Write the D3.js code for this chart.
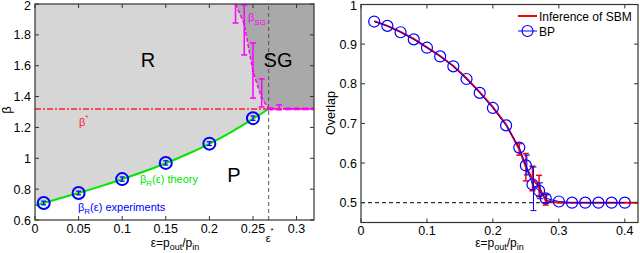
<!DOCTYPE html>
<html><head><meta charset="utf-8">
<script src="https://cdn.jsdelivr.net/npm/d3@7"></script>
<style>
body{margin:0;background:#fff;}
svg text{font-family:"Liberation Sans",Arial,sans-serif;}
</style></head>
<body><svg id="c" width="640" height="253"></svg>
<script>
// ---------- Left panel data ----------
const leftXTicks = [0, 0.05, 0.1, 0.15, 0.2, 0.25, 0.3];
const leftYTicks = [0.6, 0.8, 1, 1.2, 1.4, 1.6, 1.8, 2];
const betaStar = 1.32;
const epsStar = 0.268;
const theoryEps  = [0, 0.025, 0.05, 0.075, 0.1, 0.125, 0.15, 0.175, 0.2, 0.225, 0.25, 0.268];
const theoryBeta = [0.693, 0.735, 0.775, 0.818, 0.864, 0.914, 0.968, 1.028, 1.094, 1.17, 1.255, 1.32];
const expEps  = [0.01, 0.05, 0.1, 0.15, 0.2, 0.25];
const expBeta = [0.71, 0.775, 0.865, 0.97, 1.095, 1.26];
const expErr  = [0.012, 0.012, 0.014, 0.014, 0.012, 0.014];
const sgEps  = [0.23, 0.24, 0.25, 0.26, 0.268, 0.27, 0.28, 0.29, 0.30, 0.31, 0.32];
const sgBeta = [2.0, 1.87, 1.562, 1.39, 1.32, 1.32, 1.32, 1.32, 1.32, 1.32, 1.32];
const sgLo   = [1.877, 1.67, 1.39, 1.333, 1.32, 1.315, 1.314, 1.316, 1.316, 1.316, 1.316];
const sgHi   = [2.12, 1.994, 1.748, 1.515, 1.32, 1.325, 1.346, 1.324, 1.324, 1.324, 1.324];

// ---------- Right panel data ----------
const rightXTicks = [0, 0.1, 0.2, 0.3, 0.4];
const rightYTicks = [0.5, 0.6, 0.7, 0.8, 0.9, 1];
const bpEps = [0.02, 0.04, 0.06, 0.08, 0.10, 0.12, 0.14, 0.16, 0.18, 0.20, 0.22, 0.24, 0.25, 0.26, 0.27, 0.28, 0.30, 0.32, 0.34, 0.36, 0.38, 0.40];
const bpOv  = [0.957, 0.946, 0.930, 0.912, 0.891, 0.869, 0.844, 0.812, 0.777, 0.739, 0.695, 0.639, 0.594, 0.546, 0.530, 0.511, 0.503, 0.5, 0.5, 0.5, 0.5, 0.5];
const bpErrEps = [0.25, 0.26, 0.27, 0.28];
const bpErrLo  = [0.57, 0.48, 0.51, 0.50];
const bpErrHi  = [0.62, 0.59, 0.55, 0.52];
const sbmEps = [0.02, 0.04, 0.06, 0.08, 0.10, 0.12, 0.14, 0.16, 0.18, 0.20, 0.22, 0.24, 0.25, 0.26, 0.27, 0.28, 0.30, 0.42];
const sbmOv  = [0.958, 0.946, 0.931, 0.913, 0.892, 0.870, 0.845, 0.814, 0.779, 0.741, 0.697, 0.635, 0.59, 0.56, 0.54, 0.505, 0.5, 0.5];
const sbmErrEps = [0.24, 0.25, 0.26, 0.27, 0.28];
const sbmErrLo  = [0.62, 0.555, 0.53, 0.515, 0.494];
const sbmErrHi  = [0.649, 0.624, 0.592, 0.569, 0.521];
const overlapBaseline = 0.5;

const svg = d3.select("#c");
const frameColor = "#333";

function frame(g, x, y, xt, yt, xfmt, yfmt) {
  const [x0, x1] = x.range(), [y0, y1] = y.range();
  const tl = 4;
  xt.forEach(v => {
    g.append("line").attr("x1", x(v)).attr("x2", x(v)).attr("y1", y0).attr("y2", y0 - tl).attr("stroke", frameColor);
    g.append("line").attr("x1", x(v)).attr("x2", x(v)).attr("y1", y1).attr("y2", y1 + tl).attr("stroke", frameColor);
    g.append("text").attr("x", x(v)).attr("y", y0 + 12.5).attr("text-anchor", "middle").attr("font-size", 12.5).text(xfmt(v));
  });
  yt.forEach(v => {
    g.append("line").attr("x1", x0).attr("x2", x0 + tl).attr("y1", y(v)).attr("y2", y(v)).attr("stroke", frameColor);
    g.append("line").attr("x1", x1).attr("x2", x1 - tl).attr("y1", y(v)).attr("y2", y(v)).attr("stroke", frameColor);
    g.append("text").attr("x", x0 - 4).attr("y", Math.max(y(v) + 4.5, 10)).attr("text-anchor", "end").attr("font-size", 12.5).text(yfmt(v));
  });
  g.append("rect").attr("x", x0).attr("y", y1).attr("width", x1 - x0).attr("height", y0 - y1)
    .attr("fill", "none").attr("stroke", frameColor).attr("stroke-width", 1.2);
}
const fmt = v => String(v);

// ================= LEFT PANEL =================
const xL = d3.scaleLinear().domain([0, 0.32]).range([35, 314]);
const yL = d3.scaleLinear().domain([0.6, 2]).range([220, 4]);
const gL = svg.append("g");
gL.append("defs").append("clipPath").attr("id", "clipL").append("rect")
  .attr("x", 35).attr("y", 4).attr("width", 279).attr("height", 216);
const pL = gL.append("g").attr("clip-path", "url(#clipL)");

pL.append("rect").attr("x", 35).attr("y", 4).attr("width", 279).attr("height", 216).attr("fill", "#d6d6d6");
const sgPoly = sgEps.map((e, i) => [xL(e), yL(sgBeta[i])]);
sgPoly.push([xL(0.32), yL(2)]);
pL.append("path").attr("d", d3.line()(sgPoly) + "Z").attr("fill", "#a9a9a9");
const pPoly = theoryEps.map((e, i) => [xL(e), yL(theoryBeta[i])]);
pPoly.push([xL(0.32), yL(betaStar)], [xL(0.32), yL(0.6)], [xL(0), yL(0.6)]);
pL.append("path").attr("d", d3.line()(pPoly) + "Z").attr("fill", "#fff");

pL.append("line").attr("x1", xL(0)).attr("x2", xL(0.32)).attr("y1", yL(betaStar)).attr("y2", yL(betaStar))
  .attr("stroke", "#ff2020").attr("stroke-width", 1.5).attr("stroke-dasharray", "6,2,2,2");
pL.append("line").attr("x1", xL(epsStar)).attr("x2", xL(epsStar)).attr("y1", yL(0.6)).attr("y2", yL(2))
  .attr("stroke", "#555").attr("stroke-width", 1).attr("stroke-dasharray", "4,3");

pL.append("path").attr("d", d3.line().curve(d3.curveMonotoneX)(theoryEps.map((e, i) => [xL(e), yL(theoryBeta[i])])))
  .attr("fill", "none").attr("stroke", "#00e600").attr("stroke-width", 2);

pL.append("path").attr("d", d3.line()(sgEps.map((e, i) => [xL(e), yL(sgBeta[i])])))
  .attr("fill", "none").attr("stroke", "#ff00ff").attr("stroke-width", 1.5).attr("stroke-dasharray", "4,2");
sgEps.forEach((e, i) => {
  const cx = xL(e), a = yL(sgLo[i]), b = yL(sgHi[i]);
  if (Math.abs(a - b) > 1) {
    pL.append("line").attr("x1", cx).attr("x2", cx).attr("y1", a).attr("y2", b).attr("stroke", "#ff00ff").attr("stroke-width", 1.5);
    [a, b].forEach(yy => pL.append("line").attr("x1", cx - 3).attr("x2", cx + 3).attr("y1", yy).attr("y2", yy).attr("stroke", "#ff00ff").attr("stroke-width", 1.5));
  }
  pL.append("circle").attr("cx", cx).attr("cy", yL(sgBeta[i])).attr("r", 1.2).attr("fill", "#ff00ff");
});

expEps.forEach((e, i) => {
  const cx = xL(e), cy = yL(expBeta[i]);
  const a = yL(expBeta[i] - expErr[i]), b = yL(expBeta[i] + expErr[i]);
  pL.append("line").attr("x1", cx).attr("x2", cx).attr("y1", a).attr("y2", b).attr("stroke", "#0000ff").attr("stroke-width", 1.2);
  [a, b].forEach(yy => pL.append("line").attr("x1", cx - 2.5).attr("x2", cx + 2.5).attr("y1", yy).attr("y2", yy).attr("stroke", "#0000ff").attr("stroke-width", 1.2));
  pL.append("circle").attr("cx", cx).attr("cy", cy).attr("r", 6).attr("fill", "none").attr("stroke", "#0000ff").attr("stroke-width", 2);
});

frame(gL, xL, yL, leftXTicks, leftYTicks, fmt, fmt);

gL.append("text").attr("x", 148).attr("y", 67).attr("text-anchor", "middle").attr("font-size", 20).text("R");
gL.append("text").attr("x", 278).attr("y", 67).attr("text-anchor", "middle").attr("font-size", 20).text("SG");
gL.append("text").attr("x", 234).attr("y", 182).attr("text-anchor", "middle").attr("font-size", 20).text("P");
const bsg = gL.append("text").attr("x", 248).attr("y", 21).attr("font-size", 11).attr("fill", "#ff00ff");
bsg.append("tspan").text("β");
bsg.append("tspan").attr("font-size", 8).attr("dy", 4).text("SG");
const bst = gL.append("text").attr("x", 79).attr("y", 126).attr("font-size", 11).attr("fill", "#ff2020");
bst.append("tspan").text("β");
bst.append("tspan").attr("font-size", 8).attr("dy", -6).text("*");
const bth = gL.append("text").attr("x", 140).attr("y", 183).attr("font-size", 11).attr("fill", "#00e600");
bth.append("tspan").text("β");
bth.append("tspan").attr("font-size", 8).attr("dy", 3).text("R");
bth.append("tspan").attr("dy", -3).text("(ε) theory");
const bex = gL.append("text").attr("x", 78).attr("y", 211).attr("font-size", 11).attr("fill", "#0000ff");
bex.append("tspan").text("β");
bex.append("tspan").attr("font-size", 8).attr("dy", 3).text("R");
bex.append("tspan").attr("dy", -3).text("(ε) experiments");
const es = gL.append("text").attr("x", xL(epsStar) - 3).attr("y", 242).attr("font-size", 11);
es.append("tspan").text("ε");
es.append("tspan").attr("font-size", 8).attr("dy", -9).text("*");
gL.append("text").attr("transform", "translate(10.5,110) rotate(-90)").attr("text-anchor", "middle").attr("font-size", 13).text("β");

function epsLabel(g, cx) {
  const t = g.append("text").attr("x", cx).attr("y", 247).attr("text-anchor", "middle").attr("font-size", 12);
  t.append("tspan").text("ε=p");
  t.append("tspan").attr("font-size", 9).attr("dy", 3).text("out");
  t.append("tspan").attr("dy", -3).text("/p");
  t.append("tspan").attr("font-size", 9).attr("dy", 3).text("in");
}
epsLabel(gL, 175);

// ================= RIGHT PANEL =================
const xR = d3.scaleLinear().domain([0, 0.42]).range([361, 638]);
const yR = d3.scaleLinear().domain([0.45, 1]).range([222.5, 4.5]);
const gR = svg.append("g");
gR.append("line").attr("x1", xR(0)).attr("x2", xR(0.42)).attr("y1", yR(overlapBaseline)).attr("y2", yR(overlapBaseline))
  .attr("stroke", "#333").attr("stroke-width", 1.3).attr("stroke-dasharray", "4,3");

gR.append("path").attr("d", d3.line()(sbmEps.map((e, i) => [xR(e), yR(sbmOv[i])])))
  .attr("fill", "none").attr("stroke", "#ff0000").attr("stroke-width", 2);
sbmErrEps.forEach((e, i) => {
  const cx = xR(e), a = yR(sbmErrLo[i]), b = yR(sbmErrHi[i]);
  gR.append("line").attr("x1", cx).attr("x2", cx).attr("y1", a).attr("y2", b).attr("stroke", "#ff0000").attr("stroke-width", 1.5);
  [a, b].forEach(yy => gR.append("line").attr("x1", cx - 3).attr("x2", cx + 3).attr("y1", yy).attr("y2", yy).attr("stroke", "#ff0000").attr("stroke-width", 1.5));
});
gR.append("path").attr("d", d3.line()(bpEps.map((e, i) => [xR(e), yR(bpOv[i])])))
  .attr("fill", "none").attr("stroke", "#0000ff").attr("stroke-width", 1);
bpErrEps.forEach((e, i) => {
  const cx = xR(e) + 1, a = yR(bpErrLo[i]), b = yR(bpErrHi[i]);
  gR.append("line").attr("x1", cx).attr("x2", cx).attr("y1", a).attr("y2", b).attr("stroke", "#0000ff").attr("stroke-width", 1);
  [a, b].forEach(yy => gR.append("line").attr("x1", cx - 3).attr("x2", cx + 3).attr("y1", yy).attr("y2", yy).attr("stroke", "#0000ff").attr("stroke-width", 1));
});
bpEps.forEach((e, i) => {
  gR.append("circle").attr("cx", xR(e)).attr("cy", yR(bpOv[i])).attr("r", 5.5)
    .attr("fill", "none").attr("stroke", "#0000ff").attr("stroke-width", 1.2);
});

frame(gR, xR, yR, rightXTicks, rightYTicks, fmt, fmt);

gR.append("line").attr("x1", 518).attr("x2", 537).attr("y1", 16).attr("y2", 16).attr("stroke", "#ff0000").attr("stroke-width", 2);
gR.append("text").attr("x", 539).attr("y", 20.5).attr("font-size", 12).text("Inference of SBM");
gR.append("line").attr("x1", 518).attr("x2", 537).attr("y1", 31).attr("y2", 31).attr("stroke", "#0000ff").attr("stroke-width", 1);
gR.append("circle").attr("cx", 527.5).attr("cy", 31).attr("r", 5.5).attr("fill", "none").attr("stroke", "#0000ff").attr("stroke-width", 1.2);
gR.append("text").attr("x", 539).attr("y", 35.5).attr("font-size", 12).text("BP");

gR.append("text").attr("transform", "translate(335,113) rotate(-90)").attr("text-anchor", "middle").attr("font-size", 12.5).text("Overlap");
epsLabel(gR, 499.5);
</script>
</body></html>
